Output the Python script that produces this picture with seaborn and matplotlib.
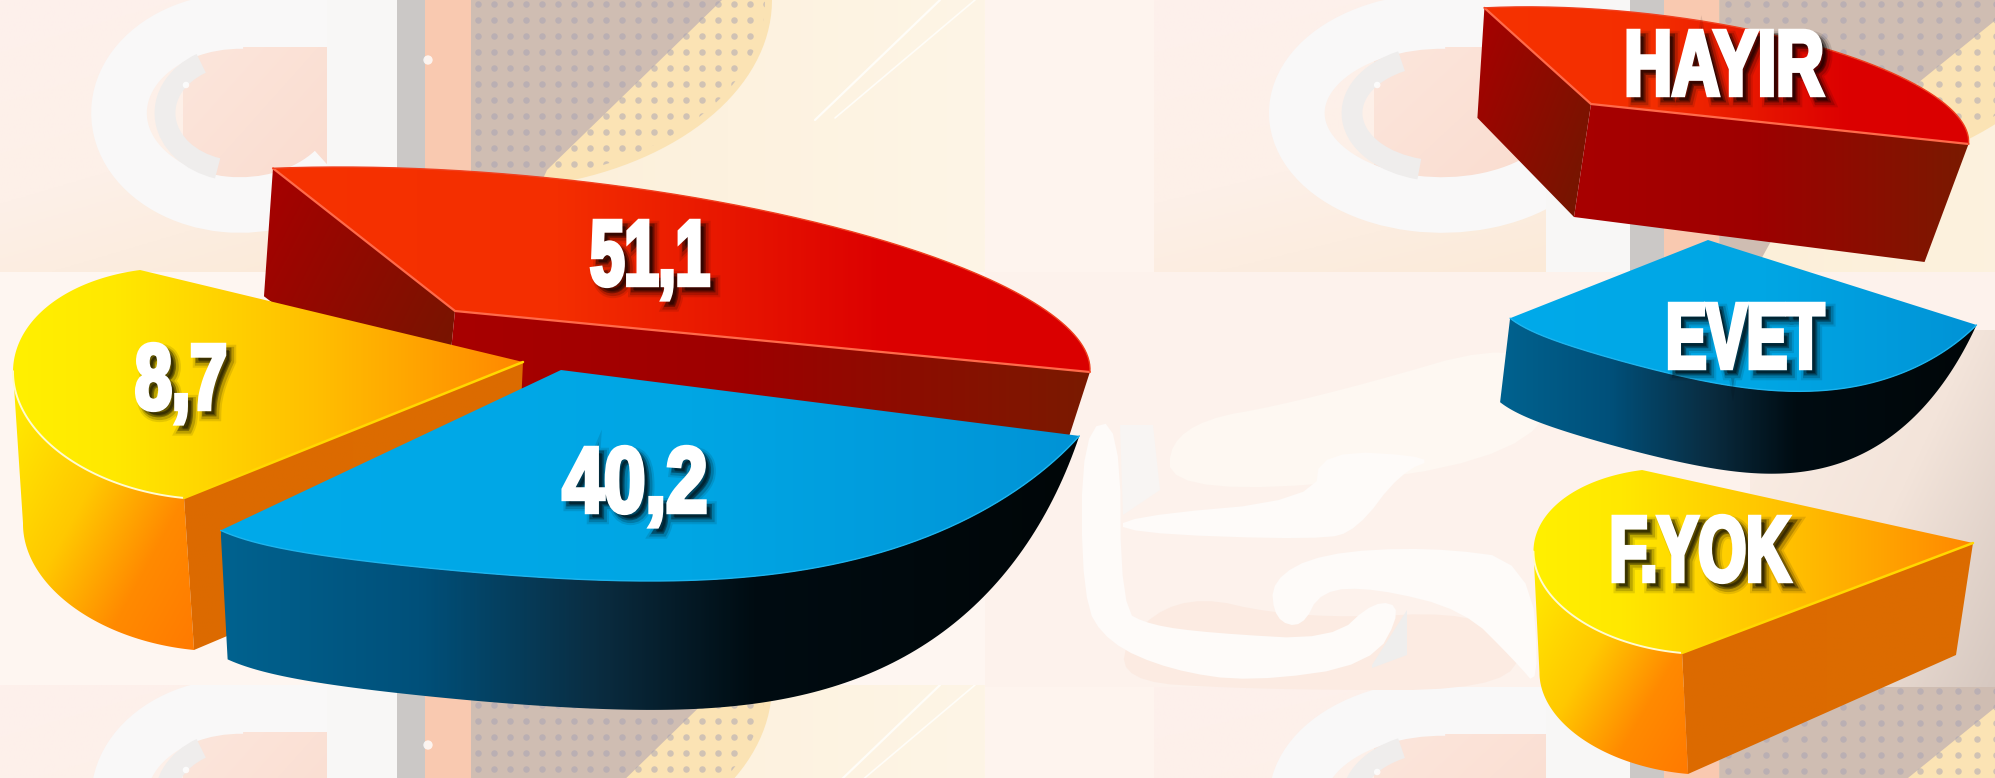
import numpy as np
import matplotlib
matplotlib.use("Agg")
import matplotlib.pyplot as plt
import seaborn as sns
from matplotlib.colors import LinearSegmentedColormap as LSC, to_rgba
from matplotlib.patches import Polygon, Rectangle, Arc
from matplotlib.transforms import Affine2D
import matplotlib.patheffects as pe

# ---- data
slice_names = ["HAYIR", "EVET", "F.YOK"]
slice_values = [51.1, 40.2, 8.7]
legend_labels = ["HAYIR", "EVET", "F.YOK"]

sns.set_theme(style="white")
plt.rcParams["font.family"] = ["Liberation Sans", "DejaVu Sans"]

W, H = 1995, 778
fig = plt.figure(figsize=(W / 100, H / 100), dpi=100)
ax = fig.add_axes([0, 0, 1, 1])
ax.set_axis_off()


def gradfill(poly, stops, angle=0.0, z=2):
    poly = np.asarray(poly, float)
    x0, y0 = poly.min(0)
    x1, y1 = poly.max(0)
    gx, gy = np.meshgrid(np.linspace(0, 1, 200), np.linspace(0, 1, 200))
    a = np.radians(angle)
    g = gx * np.cos(a) + gy * np.sin(a)
    g = (g - g.min()) / (g.max() - g.min())
    im = ax.imshow(g, extent=(x0, x1, y1, y0), cmap=LSC.from_list("g", stops), vmin=0, vmax=1,
                   aspect="auto", zorder=z, interpolation="bilinear")
    im.set_clip_path(Polygon(poly, closed=True, transform=ax.transData))
    return im


def box(x0, x1, y0, y1):
    return [(x0, y0), (x1, y0), (x1, y1), (x0, y1)]


def chaikin(pts, n=3):
    p = np.asarray(pts, float)
    for _ in range(n):
        q = np.roll(p, -1, axis=0)
        p = np.column_stack([.75 * p + .25 * q, .25 * p + .75 * q]).reshape(-1, 2)
    return p


# ---- background tile (repeats, second copy is wider)
def tile(x0, sx, ytop, h=272):
    X = lambda v: x0 + sx * v
    gradfill(box(X(0), X(335), ytop, ytop + h), [(0, "#FEF0EC"), (.55, "#FDF0E8"), (1, "#FBEAD8")], angle=70, z=0.1)
    gradfill(box(X(183), X(330), ytop + 47, ytop + 185), [(0, "#FCE6DC"), (1, "#FADCCF")], angle=40, z=0.2)
    ax.add_patch(Arc((X(240), ytop + 113), sx * 242, 184, theta1=32, theta2=272, lw=40,
                     ec="#F9F8F8", zorder=0.3))
    ax.add_patch(Arc((X(240), ytop + 113), sx * 150, 116, theta1=112, theta2=232, lw=15,
                     ec="#EFEDEC", zorder=0.31))
    ax.add_patch(Rectangle((X(240), ytop), sx * 90, 47, fc="#F9F8F8", ec="none", zorder=0.3))
    ax.add_patch(Rectangle((X(327), ytop), sx * 70, h, fc="#F8F7F6", ec="none", zorder=0.3))
    ax.add_patch(Rectangle((X(397), ytop), sx * 28, h, fc="#CBC8C6", ec="none", zorder=0.3))
    ax.add_patch(Rectangle((X(425), ytop), sx * 46, h, fc="#F9C9B0", ec="none", zorder=0.3))
    gradfill(box(X(471), X(985), ytop, ytop + h), [(0, "#FCEFD8"), (1, "#FEF5E6")], z=0.3)
    th = np.radians(np.linspace(0, 90, 40))
    band = np.column_stack([X(480) + sx * 292 * np.cos(th), ytop + 190 * np.sin(th)])
    band = np.vstack([[(X(471), ytop)], band, [(X(471), ytop + 190)]])
    ax.add_patch(Polygon(band, fc="#FBE3B4", ec="none", zorder=0.4))
    gray = [(X(471), ytop), (X(722), ytop), (X(547), ytop + 170), (X(500), ytop + h), (X(471), ytop + h)]
    ax.add_patch(Polygon(gray, fc="#CFBDB2", ec="none", zorder=0.41))
    gx, gy = np.meshgrid(np.arange(X(478), X(772), 16 * sx), np.arange(ytop + 4, ytop + 186, 16))
    clip = Polygon(np.column_stack([X(480) + sx * 285 * np.cos(th), ytop + 183 * np.sin(th)]).tolist()
                   + [(X(471), ytop + 183), (X(471), ytop)], transform=ax.transData)
    ax.scatter(gx.ravel(), gy.ravel(), s=22, color="#A6A3B4", alpha=0.5, lw=0, zorder=0.5, clip_path=clip)
    ax.plot([X(815), X(940)], [ytop + 120, ytop], color="#FFFDF8", lw=1.6, zorder=0.55)
    ax.plot([X(835), X(975)], [ytop + 118, ytop], color="#FFFDF8", lw=1.2, zorder=0.55)
    ax.scatter([X(428), X(186)], [ytop + 60, ytop + 85], s=[45, 22], color="white", alpha=.8, lw=0, zorder=.56)


ax.add_patch(Rectangle((0, 0), W, H, fc="#FEF4EE", ec="none", zorder=0))
tile(0, 1.0, 0)
tile(0, 1.0, 685)
tile(1154, 1.2, 0)
tile(1154, 1.2, 687)
ax.add_patch(Rectangle((0, 272), 1100, 413, fc="#FEF6F1", ec="none", zorder=0.6))
ax.add_patch(Rectangle((985, 272), 1010, 415, fc="#FDF2EC", ec="none", zorder=0.6))
gradfill(box(1750, 1995, 330, 687), [(0, "#FCEFE6"), (.55, "#F3E4DA"), (1, "#D6C8C0")], angle=35, z=0.65)
ax.add_patch(Polygon(chaikin([(1170, 425), (1310, 400), (1550, 330), (1550, 460), (1170, 500)]),
                     fc="#FEF8F2", ec="none", zorder=.66))
ax.add_patch(Polygon(chaikin([(1170, 590), (1300, 620), (1500, 610), (1530, 690), (1260, 690), (1100, 680)]),
                     fc="#FCEBE2", ec="none", zorder=.67))
WHITE = "#FEFBF9"
for shape in [
    [(1082, 430), (1120, 420), (1121, 610), (1150, 625), (1210, 633), (1332, 640), (1375, 600), (1403, 608),
     (1372, 665), (1250, 682), (1170, 670), (1108, 643), (1082, 600)],
    [(1123, 517), (1314, 500), (1321, 450), (1439, 457), (1400, 473), (1357, 530), (1321, 540), (1123, 533)],
    [(1271, 580), (1321, 553), (1429, 547), (1530, 560), (1540, 690), (1514, 660), (1464, 610), (1375, 588),
     (1321, 590), (1302, 628), (1275, 620)],
]:
    ax.add_patch(Polygon(chaikin(shape, 2), fc=WHITE, ec="none", zorder=.7))
ax.add_patch(Polygon([(1372, 665), (1407, 610), (1407, 655), (1372, 668)], fc="#EFEEED", ec="none", zorder=.71))
ax.add_patch(Polygon([(1120, 425), (1153, 425), (1160, 490), (1123, 515)], fc="#F8F5F3", ec="none", zorder=.71))


# ---- pie geometry: each value's angle is mapped to a rim curve
def rim(p, value, n=160):
    s = np.linspace(0, 1, n)
    t = np.radians(p["t0"] + p["stretch"] * value * 3.6 * s)
    x = p["cx"] + p["ax"] * np.cos(t)
    y = p["cy"] + p["ay"] * np.sin(t) + p["k1"] * np.cos(t) + p["k3"] * np.cos(t) ** 3
    return np.column_stack([x, y]), s


RED = dict(cx=534, ax=556, cy=317, ay=-140.5, k1=52.5, k3=0, t0=118, stretch=-0.647, apex=(455, 311))
BLUE = dict(cx=650, ax=470, cy=416, ay=165, k1=0, k3=-62, t0=156, stretch=-0.912, apex=(561, 370))
YEL = dict(cx=193, ax=180, cy=383.5, ay=115.2, k1=11.5, k3=0, t0=252.9, stretch=-5.11, apex=(523, 362))


def warp(pts, p, M, ap):
    if M is None:
        return pts
    return np.array(ap) + (pts - np.array(p["apex"])) @ np.array(M).T


def draw_red(v, M=None, ap=None, ds=(-9, 128), da=(-12, 120), de=(-22, 68), z=2):
    r, s = rim(RED, v)
    r = warp(r, RED, M, ap)
    A = np.array(ap if ap else RED["apex"], float)
    st, en = r[0], r[-1]
    gradfill([st, A, A + da, st + ds], [(0, "#A80000"), (1, "#701800")], angle=35, z=z)
    gradfill([A, en, en + de, A + da], [(0, "#A80000"), (.45, "#9E0000"), (1, "#7A1A00")], z=z)
    gradfill(np.vstack([[A], r]), [(0, "#F63200"), (.35, "#F42E00"), (.75, "#DC0000"), (1, "#DA0000")], z=z + .1)
    ax.plot(*np.vstack([st, A, en]).T, color="#FF6A4A", lw=1.6, zorder=z + .2)
    ax.plot(*r.T, color="#F0401F", lw=1.0, zorder=z + .2)


def draw_blue(v, M=None, ap=None, d=(7, 129), z=3):
    r, s = rim(BLUE, v)
    r = warp(r, BLUE, M, ap)
    A = np.array(ap if ap else BLUE["apex"], float)
    taper = 1 - np.clip((s - .45) / .55, 0, 1) ** 3
    low = r + np.outer(taper, d)
    gradfill(np.vstack([r, low[::-1]]),
             [(0, "#00628F"), (.23, "#00507A"), (.44, "#0A2C40"), (.62, "#000C12"), (1, "#000608")], z=z)
    gradfill(np.vstack([[A], r]), [(0, "#00AAEA"), (.55, "#00A6E4"), (1, "#0093D6")], z=z + .1)
    ax.plot(*r.T, color="#1CB4EE", lw=1.0, zorder=z + .2)


def draw_yellow(v, M=None, ap=None, d=(10, 152), da=(-7, 152), z=4):
    r, s = rim(YEL, v)
    r = warp(r, YEL, M, ap)
    A = np.array(ap if ap else YEL["apex"], float)
    en = r[-1]
    low = r[np.argmin(r[:, 0]):]
    gradfill(np.vstack([low, (low + d)[::-1]]),
             [(0, "#FFEF00"), (.42, "#FFC800"), (.72, "#FF8A00"), (1, "#FF7A00")], angle=40, z=z)
    gradfill([en, A, A + da, en + d], [(0, "#DC6A00"), (1, "#DC6C00")], z=z + .05)
    gradfill(np.vstack([[A], r]), [(0, "#FFF000"), (.2, "#FFE800"), (.6, "#FFBE00"), (1, "#FF8800")], z=z + .1)
    ax.plot(*low.T, color="#FFFBD0", lw=1.4, zorder=z + .2)
    ax.plot(*np.vstack([en, A]).T, color="#FFD800", lw=1.8, zorder=z + .2)


red_v, blue_v, yel_v = slice_values
draw_red(red_v)
draw_yellow(yel_v, z=3)
draw_blue(blue_v, z=4)

draw_red(red_v, M=[[.5959, -.0131], [-.002, .6763]], ap=(1591, 104),
         ds=(-7, 110), da=(-17, 113), de=(-44, 118), z=2)
draw_blue(blue_v, M=[[.5315, -.106], [.0803, .658]], ap=(1708, 240), d=(-10, 84), z=3)
draw_yellow(yel_v, M=[[.862, .0091], [-.0023, .803]], ap=(1973, 543), d=(6, 121), da=(-17, 112), z=4)


# ---- labels: real text, drawn condensed like the heavy display face of the reference
class Squeeze(pe.AbstractPathEffect):
    def __init__(self, xc, k, offset=(0, 0), color="white", lw=3.2, alpha=1.0):
        super().__init__()
        self.xc, self.k, self.off, self.color, self.lw, self.alpha = xc, k, offset, color, lw, alpha

    def draw_path(self, renderer, gc, tpath, affine, rgbFace=None):
        g = renderer.new_gc()
        g.copy_properties(gc)
        g.set_foreground(to_rgba(self.color, self.alpha))
        g.set_linewidth(self.lw)
        g.set_joinstyle("miter")
        tr = affine + Affine2D().translate(-self.xc, 0).scale(self.k, 1).translate(self.xc + self.off[0], self.off[1])
        renderer.draw_path(g, tpath, tr, to_rgba(self.color, self.alpha))
        g.restore()


def label(x, y, s, k, size=67):
    fx = [Squeeze(x, k, (6, -6), "black", 9, .10), Squeeze(x, k, (6, -6), "black", 6, .18),
          Squeeze(x, k, (5, -5), "black", 3.5, .35), Squeeze(x, k)]
    ax.text(x, y, s, fontsize=size, fontweight="bold", color="white", ha="center", va="baseline",
            zorder=9, path_effects=fx)


fmt = lambda v: f"{v:.1f}".replace(".", ",")
label(650, 285, fmt(red_v), .66)
label(635, 512, fmt(blue_v), .8)
label(181, 409, fmt(yel_v), .71)
label(1724, 95, legend_labels[0], .71)
label(1745, 368, legend_labels[1], .65)
label(1700, 581, legend_labels[2], .66)

ax.set_xlim(0, W)
ax.set_ylim(H, 0)
fig.savefig("out.png", dpi=100)
